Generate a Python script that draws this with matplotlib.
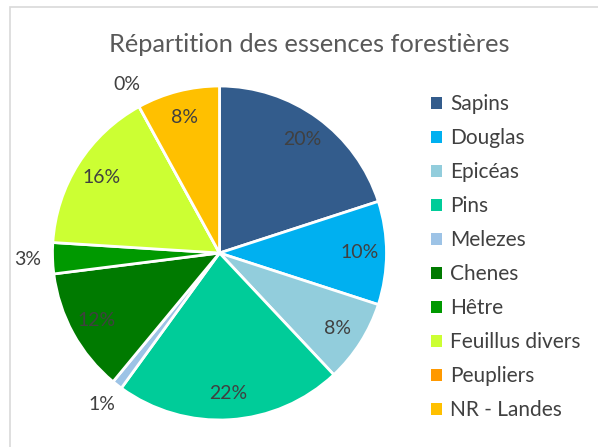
import matplotlib
matplotlib.use("Agg")
import matplotlib.pyplot as plt
from matplotlib.patches import Patch, Rectangle
import math

categories = ["Sapins", "Douglas", "Epicéas", "Pins", "Melezes", "Chenes",
              "Hêtre", "Feuillus divers", "Peupliers", "NR - Landes"]
values = [20, 10, 8, 22, 1, 12, 3, 16, 0, 8]
colors = ["#335c8c", "#00b0f0", "#92cddc", "#00cc99", "#9dc3e6", "#007a00",
          "#009900", "#ccff33", "#ff9900", "#ffc000"]
title = "Répartition des essences forestières"

plt.rcParams['font.family'] = ['Lato', 'DejaVu Sans']
txt_color = "#404040"

W, H = 598, 447
fig = plt.figure(figsize=(W / 100, H / 100), dpi=100)
fig.patch.set_facecolor("white")

# chart frame
fig.patches.append(Rectangle((10 / W, -0.01), 1.0, (H - 7) / H + 0.01,
                             transform=fig.transFigure, fill=False,
                             edgecolor="#d9d9d9", linewidth=1.2))

cx, cy, r = 219.5, 253, 167
ax = fig.add_axes([(cx - r) / W, (H - cy - r) / H, 2 * r / W, 2 * r / H])
wedges, _ = ax.pie(values, colors=colors, startangle=90, counterclock=False,
                   wedgeprops=dict(edgecolor="white", linewidth=2))
ax.set_xlim(-1, 1)
ax.set_ylim(-1, 1)
ax.set_aspect("auto")

total = sum(values)
cum = 0
for i, v in enumerate(values):
    mid = (cum + v / 2) / total * 2 * math.pi
    cum += v
    lab = f"{v}%"
    d = 0.84 if v >= 5 else 1.15
    x = d * math.sin(mid)
    y = d * math.cos(mid)
    ax.text(x, y, lab, ha="center", va="center", fontsize=14, color=txt_color)

fig.text(309 / W, 1 - 45 / H, title, ha="center", va="center",
         fontsize=18.3, color="#595959")

handles = [Patch(facecolor=c, edgecolor="none") for c in colors]
leg = fig.legend(handles, categories, loc="upper left",
                 bbox_to_anchor=(423 / W, 1 - 86 / H), frameon=False,
                 fontsize=15, handlelength=0.5, handleheight=0.5,
                 handletextpad=0.4, labelspacing=0.67, borderaxespad=0)
for t in leg.get_texts():
    t.set_color(txt_color)

fig.savefig("out.png", dpi=100)
